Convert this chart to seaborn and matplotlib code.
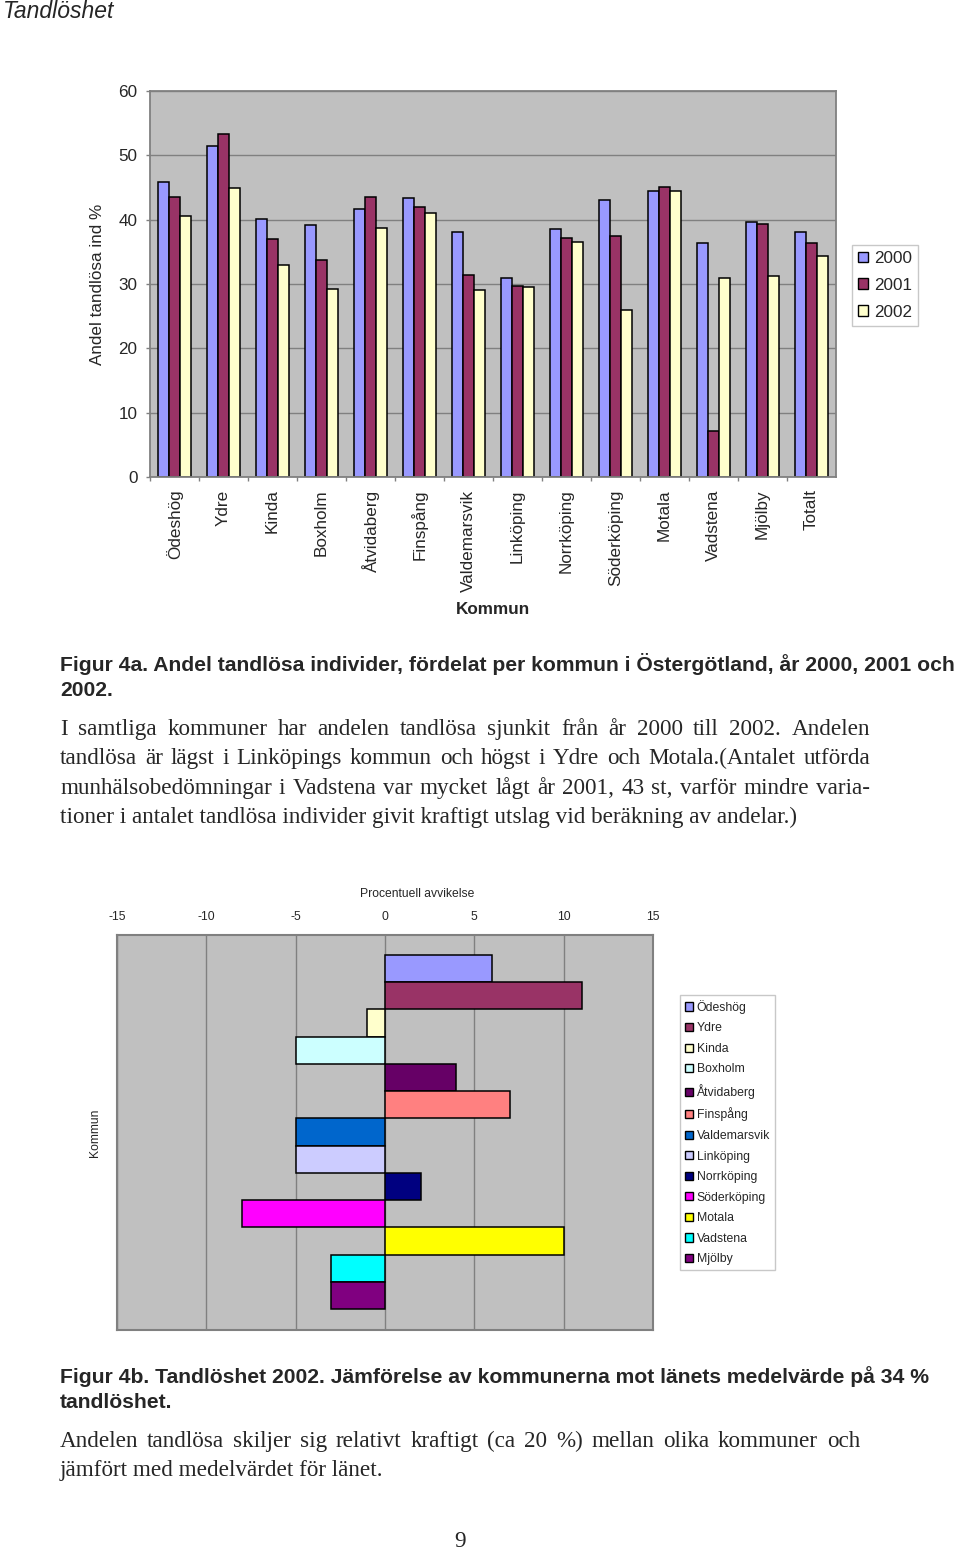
import matplotlib
matplotlib.use('Agg')
import matplotlib.pyplot as plt
import seaborn as sns
import numpy as np
import pandas as pd

# ---- data, figur 4a ----
kommuner = ['Ödeshög', 'Ydre', 'Kinda', 'Boxholm', 'Åtvidaberg', 'Finspång',
            'Valdemarsvik', 'Linköping', 'Norrköping', 'Söderköping', 'Motala',
            'Vadstena', 'Mjölby', 'Totalt']
ar = ['2000', '2001', '2002']
andel_2000 = [45.9, 51.4, 40.1, 39.2, 41.6, 43.3, 38.1, 30.9, 38.5, 43.1, 44.5, 36.4, 39.7, 38.1]
andel_2001 = [43.6, 53.3, 37.0, 33.7, 43.5, 42.0, 31.4, 29.7, 37.2, 37.5, 45.1, 7.1, 39.3, 36.4]
andel_2002 = [40.5, 45.0, 33.0, 29.3, 38.7, 41.1, 29.1, 29.5, 36.6, 26.0, 44.5, 30.9, 31.3, 34.3]
ar_farger = ['#9999FF', '#993366', '#FFFFCC']

# ---- data, figur 4b ----
kommuner_4b = kommuner[:-1]
avvikelse = [6, 11, -1, -5, 4, 7, -5, -5, 2, -8, 10, -3, -3]
kommun_farger = ['#9999FF', '#993366', '#FFFFCC', '#CCFFFF', '#660066', '#FF8080',
                 '#0066CC', '#CCCCFF', '#000080', '#FF00FF', '#FFFF00', '#00FFFF', '#800080']

sns.set_theme(style='white')
plt.rcParams['font.family'] = ['Liberation Sans', 'DejaVu Sans']
plt.rcParams['axes.unicode_minus'] = False

W, H = 960, 1550
fig = plt.figure(figsize=(W / 100, H / 100), dpi=100)
GRAY = '#808080'


def px_rect(l, t, r, b):
    return [l / W, 1 - b / H, (r - l) / W, (b - t) / H]


def ftext(x, y, s, **kw):
    return fig.text(x / W, 1 - y / H, s, **kw)


def justify(y, line, x0, x1, **kw):
    # place words one by one so the line fills x0..x1
    renderer = fig.canvas.get_renderer()
    words = line.split(' ')
    texts = [ftext(0, y, w, va='baseline', **kw) for w in words]
    widths = [t.get_window_extent(renderer).width for t in texts]
    gap = (x1 - x0 - sum(widths)) / (len(words) - 1)
    x = x0
    for t, w in zip(texts, widths):
        t.set_x(x / W)
        x += w + gap


# ════════════════════ Figur 4a ════════════════════
ax1 = fig.add_axes(px_rect(150, 91, 836, 477))
df = pd.DataFrame({
    'Kommun': kommuner * 3,
    'År': np.repeat(ar, len(kommuner)),
    'Andel': andel_2000 + andel_2001 + andel_2002,
})
sns.barplot(data=df, x='Kommun', y='Andel', hue='År', palette=ar_farger,
            saturation=1, width=0.67, edgecolor='black', linewidth=1.1,
            errorbar=None, ax=ax1)

ax1.set_facecolor('#C0C0C0')
ax1.set_ylim(0, 60)
ax1.set_xlim(-0.5, len(kommuner) - 0.5)
ax1.set_yticks(range(0, 61, 10))
ax1.yaxis.grid(True, color=GRAY, lw=1)
ax1.set_axisbelow(True)
for sp in ax1.spines.values():
    sp.set_color(GRAY)
    sp.set_linewidth(1.3)
ax1.tick_params(axis='y', left=True, length=3, width=1, color=GRAY, pad=6, labelsize=12.3)
ax1.set_xticks(np.arange(len(kommuner)) - 0.5, minor=True)
ax1.tick_params(axis='x', which='major', length=0, pad=9, labelsize=12.3, rotation=90)
ax1.tick_params(axis='x', which='minor', bottom=True, length=3, width=1, color=GRAY)
for lab in ax1.get_xticklabels():
    lab.set_va('top')

ax1.set_ylabel('Andel tandlösa ind %', fontsize=12.3)
ax1.yaxis.set_label_coords((98 - 150) / 686, 0.5)
ax1.yaxis.label.set_va('center')
ax1.set_xlabel('Kommun', fontsize=12.3, fontweight='bold')
ax1.xaxis.set_label_coords(0.5, (477 - 610) / 386)
ax1.xaxis.label.set_va('center')

handles, labels = ax1.get_legend_handles_labels()
for h in handles:
    h.set_edgecolor('black')
    h.set_linewidth(1.0)
ax1.legend(handles, labels, loc='upper left', bbox_to_anchor=(852 / W, 1 - 245 / H),
           bbox_transform=fig.transFigure, borderaxespad=0, fontsize=12.3,
           frameon=True, fancybox=False, edgecolor='#C8C8C8', framealpha=1,
           handlelength=0.6, handleheight=0.6, handletextpad=0.35,
           labelspacing=0.7, borderpad=0.35)

# ════════════════════ Figur 4b ════════════════════
ax2 = fig.add_axes(px_rect(117, 935, 653, 1330))
sns.barplot(x=avvikelse, y=kommuner_4b, hue=kommuner_4b, palette=kommun_farger,
            saturation=1, width=1.0, dodge=False, edgecolor='black', linewidth=1.1,
            errorbar=None, legend=True, ax=ax2)
ax2.set_facecolor('#C0C0C0')
ax2.set_xlim(-15, 15)
ax2.set_ylim(len(kommuner_4b) - 0.5 + 0.77, -0.5 - 0.735)
ax2.set_xticks(range(-15, 16, 5))
ax2.set_yticks([])
ax2.xaxis.grid(True, color=GRAY, lw=1)
ax2.set_axisbelow(True)
for sp in ax2.spines.values():
    sp.set_color(GRAY)
    sp.set_linewidth(1.5)
ax2.xaxis.tick_top()
ax2.tick_params(axis='x', top=True, length=0, pad=9, labelsize=8.7)
ax2.xaxis.set_label_position('top')
ax2.set_xlabel('Procentuell avvikelse', fontsize=8.7)
ax2.xaxis.set_label_coords((417 - 117) / 536, (1330 - 894) / 395)
ax2.xaxis.label.set_va('center')
ax2.set_ylabel('Kommun', fontsize=8.7)
ax2.yaxis.set_label_coords((95 - 117) / 536, 0.5)
ax2.yaxis.label.set_va('center')

handles, labels = ax2.get_legend_handles_labels()
for h in handles:
    h.set_edgecolor('black')
    h.set_linewidth(1.0)
ax2.legend(handles, labels, loc='upper left', bbox_to_anchor=(680 / W, 1 - 995 / H),
           bbox_transform=fig.transFigure, borderaxespad=0, fontsize=8.8,
           frameon=True, fancybox=False, edgecolor='#C8C8C8', framealpha=1,
           handlelength=0.65, handleheight=0.65, handletextpad=0.3,
           labelspacing=0.7, borderpad=0.4)

# ════════════════════ page text ════════════════════
ftext(3, 12, 'Tandlöshet', fontsize=16.5, style='italic', va='center')

cap = dict(fontsize=15.2, fontweight='bold', va='baseline')
ftext(60, 671, 'Figur 4a. Andel tandlösa individer, fördelat per kommun i Östergötland, år 2000, 2001 och', **cap)
ftext(60, 696, '2002.', **cap)

body = dict(fontsize=16.7, family=['Liberation Serif', 'DejaVu Serif'])
justify(735, 'I samtliga kommuner har andelen tandlösa sjunkit från år 2000 till 2002. Andelen', 60, 870, **body)
justify(764, 'tandlösa är lägst i Linköpings kommun och högst i Ydre och Motala.(Antalet utförda', 60, 870, **body)
justify(794, 'munhälsobedömningar i Vadstena var mycket lågt år 2001, 43 st, varför mindre varia-', 60, 870, **body)
ftext(60, 823, 'tioner i antalet tandlösa individer givit kraftigt utslag vid beräkning av andelar.)', va='baseline', **body)

ftext(60, 1383, 'Figur 4b. Tandlöshet 2002. Jämförelse av kommunerna mot länets medelvärde på 34 %', **cap)
ftext(60, 1408, 'tandlöshet.', **cap)
justify(1447, 'Andelen tandlösa skiljer sig relativt kraftigt (ca 20 %) mellan olika kommuner och', 60, 860, **body)
ftext(60, 1476, 'jämfört med medelvärdet för länet.', va='baseline', **body)

ftext(460, 1547, '9', ha='center', va='baseline', **body)

fig.savefig('out.png', dpi=100)
plt.close(fig)
